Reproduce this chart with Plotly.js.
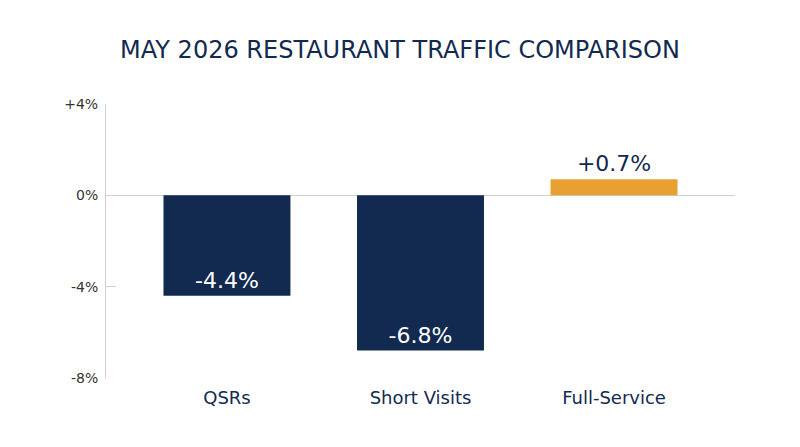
<!DOCTYPE html>
<html>
<head>
<meta charset="utf-8">
<script src="https://cdn.plot.ly/plotly-3.0.1.min.js"></script>
<style>html,body{margin:0;padding:0;background:#fff;}#chart{width:800px;height:447px;}</style>
</head>
<body>
<div id="chart"></div>
<script>
const categories = ["QSRs", "Short Visits", "Full-Service"];
const values = [-4.4, -6.8, 0.7];
const labels = ["-4.4%", "-6.8%", "+0.7%"];
const barColors = ["#132a50", "#132a50", "#e8a030"];
const tickValues = [4, 0, -4, -8];
const tickLabels = ["+4%", "0%", "-4%", "-8%"];

const FONT = "DejaVu Sans, sans-serif";
const NAVY = "#132a50";

const trace = {
  type: "bar",
  x: categories,
  y: values,
  text: labels,
  textposition: values.map(v => v < 0 ? "inside" : "outside"),
  insidetextanchor: "end",
  insidetextfont: {family: FONT, size: 22, color: "#ffffff"},
  outsidetextfont: {family: FONT, size: 22, color: NAVY},
  textangle: 0,
  constraintext: "none",
  cliponaxis: false,
  marker: {color: barColors},
  width: 0.656,
  hoverinfo: "none"
};

const layout = {
  width: 800, height: 447,
  paper_bgcolor: "#ffffff", plot_bgcolor: "#ffffff",
  margin: {l: 106, r: 65, t: 104, b: 69},
  title: {text: "MAY 2026 RESTAURANT TRAFFIC COMPARISON", x: 0.5, xanchor: "center", y: 0.888, yanchor: "middle",
          font: {family: FONT, size: 24, color: NAVY}},
  showlegend: false,
  xaxis: {
    range: [-0.625, 2.625],
    showline: false, showgrid: false, zeroline: false, ticks: "",
    tickfont: {family: FONT, size: 18, color: NAVY},
    ticklabelstandoff: 7,
    fixedrange: true
  },
  yaxis: {
    range: [-8, 4],
    tickvals: tickValues, ticktext: tickLabels,
    ticks: "inside", ticklen: 10, tickcolor: "#cfcfcf", tickwidth: 1,
    showline: true, linecolor: "#cfcfcf", linewidth: 1,
    showgrid: false,
    zeroline: true, zerolinecolor: "#cfcfcf", zerolinewidth: 1,
    tickfont: {family: FONT, size: 14, color: "#333333"},
    ticklabelstandoff: 4,
    fixedrange: true
  }
};

Plotly.newPlot("chart", [trace], layout, {displayModeBar: false, staticPlot: true});
</script>
</body>
</html>
